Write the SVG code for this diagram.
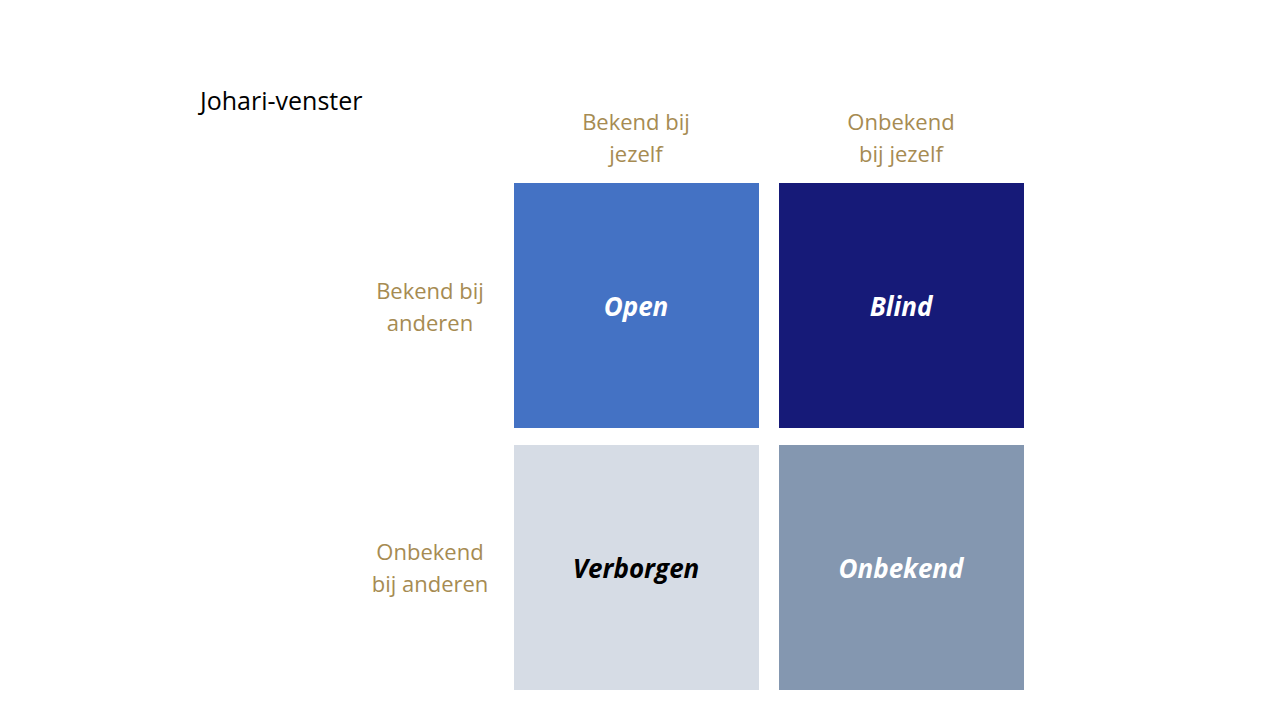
<svg xmlns="http://www.w3.org/2000/svg" width="1280" height="720" viewBox="0 0 1280 720">
<style>
.lbl{font-family:"Open Sans","Liberation Sans",sans-serif;font-size:22px;fill:#A68B52;text-anchor:middle}
.box{font-family:"Open Sans","Liberation Sans",sans-serif;font-size:26px;font-weight:bold;font-style:italic;text-anchor:middle}
</style>
<rect width="1280" height="720" fill="#fff"/>
<text x="200" y="110" font-family="'Open Sans','Liberation Sans',sans-serif" font-size="25" fill="#000">Johari-venster</text>
<g id="col-labels">
<text class="lbl" x="636" y="130">Bekend bij</text>
<text class="lbl" x="636" y="162">jezelf</text>
<text class="lbl" x="901" y="130">Onbekend</text>
<text class="lbl" x="901" y="162">bij jezelf</text>
</g>
<g id="row-labels">
<text class="lbl" x="430" y="299">Bekend bij</text>
<text class="lbl" x="430" y="331">anderen</text>
<text class="lbl" x="430" y="560">Onbekend</text>
<text class="lbl" x="430" y="592">bij anderen</text>
</g>
<g id="open"><rect x="514" y="183" width="245" height="245" fill="#4472C4"/><text class="box" x="636" y="316" fill="#fff">Open</text></g>
<g id="blind"><rect x="779" y="183" width="245" height="245" fill="#161A78"/><text class="box" x="901" y="316" fill="#fff">Blind</text></g>
<g id="verborgen"><rect x="514" y="445" width="245" height="245" fill="#D6DCE5"/><text class="box" x="636" y="578" fill="#000">Verborgen</text></g>
<g id="onbekend"><rect x="779" y="445" width="245" height="245" fill="#8497B0"/><text class="box" x="901" y="578" fill="#fff">Onbekend</text></g>
<g id="connectors"/>
</svg>
